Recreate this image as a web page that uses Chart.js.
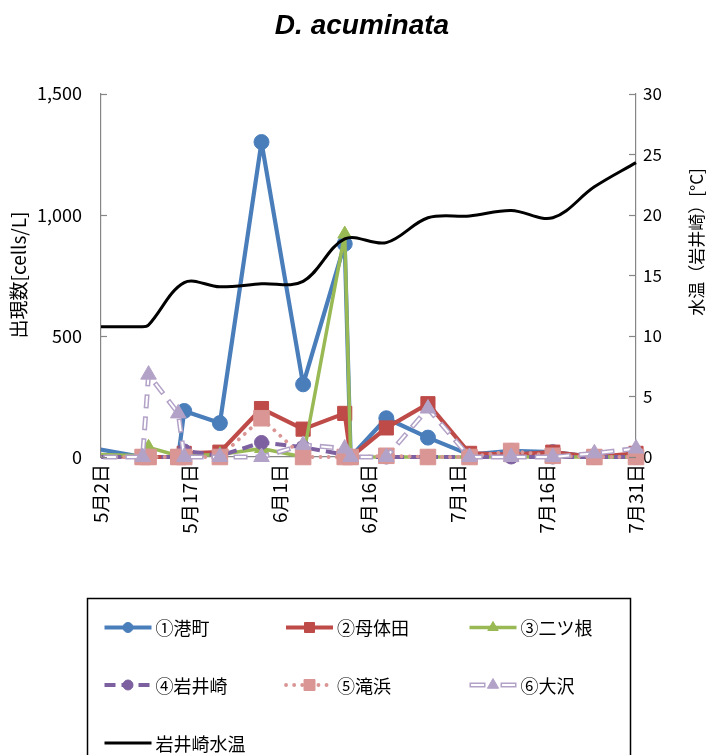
<!DOCTYPE html>
<html><head><meta charset="utf-8">
<script src="https://cdn.jsdelivr.net/npm/chart.js@4.4.1/dist/chart.umd.min.js"></script>
<style>html,body{margin:0;padding:0;background:#fff;} canvas{display:block;}</style>
</head><body>
<canvas id="c" width="724" height="755"></canvas>
<script>
// ---- data (days counted from 5月2日; first sample lies before the axis start) ----
const sampleDays   = [-7, 7, 8, 13, 14, 20, 27, 34, 41, 42, 48, 55, 62, 69, 76, 83, 90];
const minatomachi  = [60, 0, 0, 0, 190, 140, 1300, 300, 880, 0, 160, 80, 10, 25, 20, 0, 0];
const botaida      = [10, 0, 0, 0, 15, 20, 200, 115, 180, 0, 120, 220, 15, 10, 20, 0, 15];
const futatsune    = [15, 5, 40, 5, 5, 10, 35, 0, 920, 0, 0, 0, 0, 0, 0, 0, 0];
const iwaisaki     = [0, 0, 0, 0, 25, 5, 60, 40, 10, 0, 0, 0, 0, 0, 0, 0, 0];
const takihama     = [0, 0, 0, 0, 0, 0, 160, 0, 0, 0, 5, 0, 0, 25, 5, 0, 0];
const osawa        = [0, 0, 340, 180, 0, 0, 0, 50, 35, 0, 0, 200, 0, 0, 0, 15, 35];
const tempDays     = [-7, 7, 8, 14, 20, 27, 34, 41, 48, 55, 62, 69, 76, 83, 90];
const tempValues   = [10.8, 10.75, 10.9, 14.4, 14.05, 14.3, 14.5, 18.0, 17.7, 19.75, 19.9, 20.35, 19.75, 22.3, 24.3];
const xTickLabels  = ['5月2日', '5月17日', '6月1日', '6月16日', '7月1日', '7月16日', '7月31日'];
const seriesNames  = ['①港町', '②母体田', '③二ツ根', '④岩井崎', '⑤滝浜', '⑥大沢', '岩井崎水温'];
const leftTitle = '出現数[cells/L]';
const rightTitle = '水温（岩井崎）[°C]';
const chartTitle = 'D. acuminata';

const FONT = '"Noto Sans CJK JP", "Noto Sans", sans-serif';
const styles = [
  {color:'#4A7EBB', width:4.2, dash:[], marker:'circle', r:7.5, lr:5},
  {color:'#BE4B48', width:4.2, dash:[], marker:'rect', r:10, lr:5},
  {color:'#98B954', width:3.5, dash:[], marker:'triangle', r:8, lr:6},
  {color:'#7D60A0', width:4, dash:[11,6], marker:'circle', r:7, lr:5},
  {color:'#D99694', width:3.8, dash:[0.1,8], cap:'round', marker:'rect', r:11, lr:5.5},
  {color:'#B3A2C7', width:5, dash:[14,8], marker:'triangle', r:9, lr:6.5, hollow:true},
  {color:'#000000', width:3, dash:[], marker:null}
];
const seriesValues = [minatomachi, botaida, futatsune, iwaisaki, takihama, osawa];
const pts = (xs, ys) => xs.map((d, i) => ({x: d, y: ys[i]}));
const CLIP = {left: 0, top: false, right: false, bottom: false};

const datasets = [];
seriesValues.forEach((vals, k) => {
  const s = styles[k];
  const base = {
    label: seriesNames[k], data: pts(sampleDays, vals), yAxisID: 'y',
    borderColor: s.color, borderWidth: s.width, borderDash: s.dash,
    borderCapStyle: s.cap || 'butt', borderJoinStyle: 'round',
    backgroundColor: s.color, pointBackgroundColor: s.color, pointBorderColor: s.color,
    pointStyle: s.marker, pointRadius: s.r, pointBorderWidth: 1, pointHoverRadius: s.r,
    tension: 0, clip: CLIP, order: 8 - k, fill: false
  };
  if (s.hollow) {
    datasets.push(Object.assign({}, base, {pointRadius: 0, pointHoverRadius: 0, order: 3}));
    datasets.push(Object.assign({}, base, {label: seriesNames[k] + ' inner', borderColor: '#ffffff', borderWidth: 2,
      borderDash: [11, 11], borderDashOffset: -1.5, pointRadius: 0, pointHoverRadius: 0, order: 2}));
    datasets.push(Object.assign({}, base, {label: seriesNames[k] + ' markers', showLine: false, order: 1}));
  } else {
    datasets.push(base);
  }
});
datasets.push({
  label: seriesNames[6], data: pts(tempDays, tempValues), yAxisID: 'y2',
  borderColor: '#000', borderWidth: 3, pointRadius: 0, pointHoverRadius: 0,
  tension: 0.35, clip: CLIP, order: 0, fill: false
});

function drawMarker(ctx, style, x, y, r, color) {
  ctx.save(); ctx.fillStyle = color; ctx.strokeStyle = color; ctx.lineWidth = 1; ctx.setLineDash([]);
  ctx.beginPath();
  if (style === 'circle') ctx.arc(x, y, r, 0, Math.PI * 2);
  else if (style === 'rect') ctx.rect(x - r, y - r, 2 * r, 2 * r);
  else if (style === 'triangle') { ctx.moveTo(x, y - r); ctx.lineTo(x + r * 0.87, y + r * 0.5); ctx.lineTo(x - r * 0.87, y + r * 0.5); ctx.closePath(); }
  ctx.fill(); ctx.stroke(); ctx.restore();
}

const decor = {
  id: 'decor',
  afterDraw(chart) {
    const ctx = chart.ctx, a = chart.chartArea;
    // inward tick marks
    ctx.save(); ctx.strokeStyle = '#868686'; ctx.lineWidth = 1.2;
    const yS = chart.scales.y, y2S = chart.scales.y2;
    yS.ticks.forEach(t => { const p = Math.round(yS.getPixelForValue(t.value)) + 0.5; ctx.beginPath(); ctx.moveTo(a.left, p); ctx.lineTo(a.left + 6, p); ctx.stroke(); });
    y2S.ticks.forEach(t => { const p = Math.round(y2S.getPixelForValue(t.value)) + 0.5; ctx.beginPath(); ctx.moveTo(a.right - 7, p); ctx.lineTo(a.right, p); ctx.stroke(); });
    ctx.restore();
    // axis titles
    ctx.save(); ctx.fillStyle = '#000'; ctx.font = '19px ' + FONT; ctx.textAlign = 'center'; ctx.textBaseline = 'middle';
    ctx.translate(19, 275); ctx.rotate(-Math.PI / 2); ctx.fillText(leftTitle, 0, 0); ctx.restore();
    ctx.save(); ctx.fillStyle = '#000'; ctx.font = '17px ' + FONT; ctx.textAlign = 'center'; ctx.textBaseline = 'middle';
    ctx.translate(697, 242); ctx.rotate(-Math.PI / 2); ctx.fillText(rightTitle, 0, 0); ctx.restore();
    // legend
    ctx.save(); ctx.strokeStyle = '#000'; ctx.lineWidth = 1.5; ctx.strokeRect(87.5, 598.5, 543, 170); ctx.restore();
    const cols = [104.5, 286, 469.5], rows = [627.5, 685, 743];
    styles.forEach((s, k) => {
      const x0 = cols[k % 3], y = rows[Math.floor(k / 3)], L = 47;
      ctx.save(); ctx.lineCap = s.cap || 'butt';
      if (s.hollow) {
        [[x0, x0 + 16], [x0 + 31, x0 + 47]].forEach(([p, q]) => {
          ctx.strokeStyle = s.color; ctx.lineWidth = 5; ctx.beginPath(); ctx.moveTo(p, y); ctx.lineTo(q, y); ctx.stroke();
          ctx.strokeStyle = '#fff'; ctx.lineWidth = 2; ctx.beginPath(); ctx.moveTo(p + 1.5, y); ctx.lineTo(q - 1.5, y); ctx.stroke();
        });
      } else {
        ctx.strokeStyle = s.color; ctx.lineWidth = s.width; ctx.setLineDash(s.dash);
        ctx.beginPath(); ctx.moveTo(x0, y); ctx.lineTo(x0 + L, y); ctx.stroke();
      }
      ctx.restore();
      if (s.marker) drawMarker(ctx, s.marker, x0 + L / 2, y, s.lr, s.color);
      ctx.save(); ctx.fillStyle = '#000'; ctx.font = '18px ' + FONT; ctx.textAlign = 'left'; ctx.textBaseline = 'middle';
      ctx.fillText(seriesNames[k], x0 + 51, y + 1); ctx.restore();
    });
  }
};

new Chart(document.getElementById('c'), {
  type: 'line',
  data: { datasets },
  plugins: [decor],
  options: {
    responsive: false, animation: false, events: [],
    layout: { padding: { top: 0, bottom: 198, left: 0, right: 0 } },
    plugins: {
      legend: { display: false }, tooltip: { enabled: false },
      title: { display: true, text: chartTitle, color: '#000',
        font: { family: '"Liberation Sans", Arial, sans-serif', size: 28, weight: 'bold', style: 'italic' },
        padding: { top: 9, bottom: 51 } }
    },
    scales: {
      x: { type: 'linear', min: 0, max: 90,
        afterFit(s) { s.height = 100; },
        grid: { display: false, drawTicks: false }, border: { display: true, color: '#868686', width: 1.2 },
        ticks: { stepSize: 15, autoSkip: false, maxRotation: 90, minRotation: 90, padding: 7, color: '#000',
          font: { family: FONT, size: 19 }, callback: (v) => xTickLabels[Math.round(v / 15)] } },
      y: { position: 'left', min: 0, max: 1500,
        afterFit(s) { s.width = 101; },
        grid: { display: false, drawTicks: false }, border: { display: true, color: '#868686', width: 1.2 },
        ticks: { stepSize: 500, padding: 19, color: '#000', font: { family: FONT, size: 18 },
          callback: (v) => v.toLocaleString('en-US') } },
      y2: { position: 'right', min: 0, max: 30,
        afterFit(s) { s.width = 88; },
        grid: { display: false, drawTicks: false }, border: { display: true, color: '#868686', width: 1.2 },
        ticks: { stepSize: 5, padding: 7, color: '#000', font: { family: FONT, size: 17 } } }
    }
  }
});
</script>
</body></html>
